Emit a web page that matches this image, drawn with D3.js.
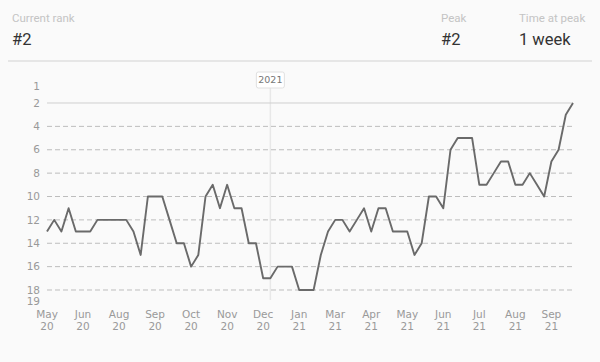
<!DOCTYPE html>
<html>
<head>
<meta charset="utf-8">
<script src="https://cdn.jsdelivr.net/npm/d3@7"></script>
<style>
	html, body { margin: 0; padding: 0; background: #fafafa; }
	svg { display: block; }
</style>
</head>
<body>
<script>
// weekly chart positions, first week starts 25 May 2020
const ranks = [13, 12, 13, 11, 13, 13, 13, 12, 12, 12, 12, 12, 13, 15, 10, 10, 10, 12, 14, 14,
	16, 15, 10, 9, 11, 9, 11, 11, 14, 14, 17, 17, 16, 16, 16, 18, 18, 18, 15, 13,
	12, 12, 13, 12, 11, 13, 11, 11, 13, 13, 13, 15, 14, 10, 10, 11, 6, 5, 5, 5,
	9, 9, 8, 7, 7, 9, 9, 8, 9, 10, 7, 6, 3, 2];
const tickMonths = ["May", "Jun", "Aug", "Sep", "Oct", "Nov", "Dec", "Jan", "Mar", "Apr", "May", "Jun", "Jul", "Aug", "Sep"];
const tickYears = ["20", "20", "20", "20", "20", "20", "20", "21", "21", "21", "21", "21", "21", "21", "21"];
const rankTicks = [1, 2, 4, 6, 8, 10, 12, 14, 16, 18, 19];
const gridRanks = [2, 4, 6, 8, 10, 12, 14, 16, 18];
const yearMarkWeek = 31; // week containing 1 Jan 2021
const stats = [
	{ label: "Current rank", value: "#2" },
	{ label: "Peak", value: "#2" },
	{ label: "Time at peak", value: "1 week" }
];

const width = 600, height = 362;
const svg = d3.select("body").append("svg").attr("width", width).attr("height", height);

// header
const statX = [12, 441, 519];
const head = svg.append("g").selectAll("g").data(stats).enter().append("g")
	.attr("transform", (d, i) => "translate(" + statX[i] + ",0)");
head.append("text").text(d => d.label)
	.attr("y", 22).style("font-family", "Roboto").style("font-size", "11.5px").style("fill", "#c4c4c4");
head.append("text").text(d => d.value)
	.attr("y", 45).style("font-family", "Roboto").style("font-size", "16.5px").style("fill", "#333");
svg.append("line").attr("x1", 8).attr("x2", 592).attr("y1", 61).attr("y2", 61)
	.style("stroke", "#e6e6e6").style("stroke-width", 2);

const x = d3.scaleLinear().domain([0, ranks.length - 1]).range([47, 573]);
const y = d3.scaleLinear().domain([2, 18]).range([103, 290]);

// 2021 marker
svg.append("line").attr("x1", x(yearMarkWeek)).attr("x2", x(yearMarkWeek))
	.attr("y1", 88).attr("y2", 300).style("stroke", "#e8e8e8").style("stroke-width", 1.5);
const mark = svg.append("g").attr("transform", "translate(" + x(yearMarkWeek) + ",80)");
mark.append("rect").attr("x", -14).attr("y", -8).attr("width", 28).attr("height", 16).attr("rx", 2)
	.style("fill", "#fff").style("stroke", "#e0e0e0");
mark.append("text").text("2021").attr("text-anchor", "middle").attr("dy", "0.35em")
	.style("font-family", "DejaVu Sans").style("font-size", "9.5px").style("fill", "#777");

// grid
svg.append("g").selectAll("line").data(gridRanks).enter().append("line")
	.attr("x1", x(0)).attr("x2", x(ranks.length - 1))
	.attr("y1", d => y(d)).attr("y2", d => y(d))
	.style("stroke", d => d === 2 ? "#cfcfcf" : "#bdbdbd").style("stroke-width", 1)
	.style("stroke-dasharray", d => d === 2 ? null : "5,3");

// y labels
svg.append("g").selectAll("text").data(rankTicks).enter().append("text")
	.text(d => d)
	.attr("x", 40)
	.attr("y", d => d === 1 ? y(d) - 5 : y(d))
	.attr("dy", "0.35em").attr("text-anchor", "end")
	.style("font-family", "DejaVu Sans").style("font-size", "10.5px").style("fill", "#999");

// x labels every 5 weeks
const xl = svg.append("g").selectAll("g").data(tickMonths).enter().append("g")
	.attr("transform", (d, i) => "translate(" + x(i * 5) + ",0)");
xl.append("text").text(d => d).attr("y", 318).attr("text-anchor", "middle")
	.style("font-family", "DejaVu Sans").style("font-size", "10.5px").style("fill", "#999");
xl.append("text").text((d, i) => tickYears[i]).attr("y", 330).attr("text-anchor", "middle")
	.style("font-family", "DejaVu Sans").style("font-size", "10.5px").style("fill", "#999");

// rank line
const line = d3.line().x((d, i) => x(i)).y(d => y(d));
svg.append("path").datum(ranks).attr("d", line)
	.style("fill", "none").style("stroke", "#6a6a6a").style("stroke-width", 1.9)
	.style("stroke-linejoin", "round");
</script>
</body>
</html>
